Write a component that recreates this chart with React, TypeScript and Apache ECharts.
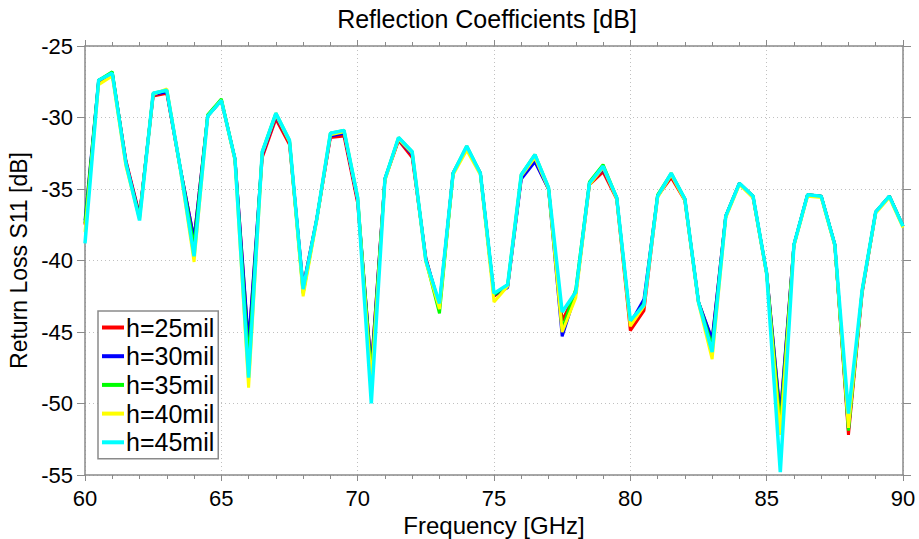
import React, { useEffect, useRef } from "react";
import * as echarts from "echarts";

const freqs = [
  60, 60.5, 61, 61.5, 62, 62.5, 63, 63.5, 64, 64.5, 65, 65.5, 66, 66.5, 67, 67.5,
  68, 68.5, 69, 69.5, 70, 70.5, 71, 71.5, 72, 72.5, 73, 73.5, 74, 74.5, 75, 75.5,
  76, 76.5, 77, 77.5, 78, 78.5, 79, 79.5, 80, 80.5, 81, 81.5, 82, 82.5, 83, 83.5,
  84, 84.5, 85, 85.5, 86, 86.5, 87, 87.5, 88, 88.5, 89, 89.5, 90,
];

const h25 = [
  -37.5, -27.5, -26.9, -33.0, -36.8, -28.5, -28.3, -33.6, -38.5, -29.9, -28.8, -32.9, -46.0, -32.8, -30.1, -31.9,
  -41.8, -37.1, -31.4, -31.3, -36.0, -47.5, -34.3, -31.6, -32.8, -39.8, -43.3, -33.9, -32.1, -33.9, -42.5, -41.8,
  -34.2, -33.0, -35.0, -44.2, -42.3, -34.7, -33.8, -35.7, -44.9, -43.5, -35.5, -34.2, -35.8, -42.9, -45.6, -36.9,
  -34.6, -35.6, -40.9, -51.0, -38.9, -35.4, -35.5, -38.9, -52.2, -42.3, -36.6, -35.5, -37.6,
];

const h30 = [
  -37.2, -27.4, -26.9, -33.1, -36.9, -28.4, -28.2, -33.6, -38.5, -29.9, -28.8, -32.9, -45.8, -32.6, -29.9, -31.7,
  -41.9, -37.1, -31.3, -31.1, -35.8, -47.6, -34.3, -31.5, -32.6, -39.9, -43.1, -33.9, -32.1, -33.9, -42.4, -41.9,
  -34.3, -33.1, -35.0, -45.3, -42.3, -34.6, -33.6, -35.6, -44.4, -42.7, -35.5, -34.0, -35.7, -42.9, -45.5, -36.9,
  -34.6, -35.5, -40.9, -50.8, -38.9, -35.4, -35.5, -38.9, -51.8, -42.2, -36.6, -35.5, -37.6,
];

const h35 = [
  -37.4, -27.4, -26.8, -33.2, -37.0, -28.3, -28.1, -33.6, -39.0, -29.8, -28.7, -32.9, -47.0, -32.4, -29.7, -31.6,
  -42.3, -37.1, -31.1, -30.9, -35.6, -48.0, -34.3, -31.4, -32.4, -40.0, -43.7, -33.9, -32.0, -33.9, -42.4, -41.7,
  -34.0, -32.6, -34.9, -44.8, -42.0, -34.5, -33.3, -35.6, -44.4, -43.0, -35.4, -33.9, -35.7, -42.9, -46.0, -36.9,
  -34.6, -35.5, -40.9, -51.5, -38.9, -35.4, -35.5, -38.9, -51.9, -42.1, -36.6, -35.5, -37.6,
];

const h40 = [
  -38.0, -27.7, -27.1, -33.4, -37.1, -28.4, -28.0, -33.7, -40.1, -29.9, -28.8, -33.0, -48.9, -32.5, -29.8, -31.7,
  -42.5, -37.2, -31.2, -31.0, -35.7, -48.5, -34.4, -31.5, -32.5, -40.1, -43.4, -34.0, -32.3, -34.0, -42.9, -41.8,
  -34.1, -32.8, -35.0, -45.0, -42.6, -34.7, -33.5, -35.7, -44.6, -43.2, -35.6, -34.0, -35.8, -43.0, -46.9, -37.0,
  -34.7, -35.6, -41.0, -52.2, -39.0, -35.5, -35.6, -39.0, -51.7, -42.2, -36.7, -35.6, -37.7,
];

const h45 = [
  -38.8, -27.4, -26.9, -33.2, -37.2, -28.3, -28.1, -33.6, -39.7, -29.9, -28.8, -32.9, -48.2, -32.4, -29.7, -31.6,
  -42.0, -37.1, -31.1, -30.9, -35.6, -50.0, -34.3, -31.4, -32.4, -40.0, -43.0, -33.9, -32.0, -33.9, -42.3, -41.7,
  -34.0, -32.6, -34.9, -43.6, -42.2, -34.6, -33.4, -35.6, -44.2, -43.1, -35.5, -33.9, -35.7, -42.9, -46.4, -36.9,
  -34.6, -35.5, -40.9, -54.8, -38.9, -35.4, -35.5, -38.9, -50.7, -42.1, -36.6, -35.5, -37.6,
];

const seriesNames = ["h=25mil", "h=30mil", "h=35mil", "h=40mil", "h=45mil"];
const seriesColors = ["#ff0000", "#0000ff", "#00ff00", "#ffff00", "#00ffff"];
const seriesValues = [h25, h30, h35, h40, h45];

const FONT = "'Liberation Sans', Arial, sans-serif";
const AXIS_COLOR = "#8a8a8a";

export default function App() {
  const ref = useRef<HTMLDivElement>(null);

  useEffect(() => {
    if (!ref.current) return;
    const chart = echarts.init(ref.current, undefined, { renderer: "svg" });

    const baseX = {
      type: "value" as const,
      min: 60,
      max: 90,
      interval: 5,
      axisLine: { show: true, onZero: false, lineStyle: { color: AXIS_COLOR, width: 1.5 } },
      axisTick: { show: true, inside: false, length: 6, lineStyle: { color: AXIS_COLOR, width: 1 } },
      minorTick: { show: true, splitNumber: 5, length: 4, lineStyle: { color: AXIS_COLOR, width: 1 } },
    };
    const baseY = {
      type: "value" as const,
      min: -55,
      max: -25,
      interval: 5,
      axisLine: { show: true, onZero: false, lineStyle: { color: AXIS_COLOR, width: 1.5 } },
      axisTick: { show: true, inside: false, length: 8, lineStyle: { color: AXIS_COLOR, width: 1 } },
    };

    chart.setOption({
      animation: false,
      backgroundColor: "#ffffff",
      textStyle: { fontFamily: FONT },
      graphic: [
        {
          type: "text",
          x: 487,
          y: 19,
          style: {
            text: "Reflection Coefficients [dB]",
            fontFamily: FONT,
            fontSize: 25,
            fill: "#000",
            textAlign: "center",
            textVerticalAlign: "middle",
          },
        },
      ],
      grid: { left: 85, right: 16, top: 46, bottom: 64, containLabel: false, outerBoundsMode: "none" },
      legend: {
        show: true,
        data: seriesNames,
        orient: "vertical",
        left: 98,
        top: 311,
        itemWidth: 22,
        itemHeight: 4,
        itemGap: 3.7,
        icon: "rect",
        padding: [4, 4, 4, 4],
        backgroundColor: "#ffffff",
        borderColor: "#8a8a8a",
        borderWidth: 1.5,
        borderRadius: 0,
        textStyle: { fontFamily: FONT, fontSize: 25, lineHeight: 25, color: "#000", padding: [0, 0, 0, -3] },
      },
      xAxis: [
        {
          ...baseX,
          position: "bottom",
          name: "Frequency [GHz]",
          nameLocation: "middle",
          nameGap: 33,
          nameTextStyle: { fontFamily: FONT, fontSize: 24, color: "#000" },
          axisLabel: { show: true, fontFamily: FONT, fontSize: 22, color: "#000", margin: 12 },
          splitLine: { show: true, lineStyle: { color: "#c0c0c0", type: [1, 3], width: 1 } },
        },
        {
          ...baseX,
          position: "top",
          axisLabel: { show: false },
          splitLine: { show: false },
        },
      ],
      yAxis: [
        {
          ...baseY,
          position: "left",
          name: "Return Loss S11 [dB]",
          nameLocation: "middle",
          nameGap: 50,
          nameTextStyle: { fontFamily: FONT, fontSize: 23, color: "#000" },
          axisLabel: { show: true, fontFamily: FONT, fontSize: 22, color: "#000", margin: 12 },
          splitLine: { show: true, lineStyle: { color: "#c0c0c0", type: [1, 3], width: 1 } },
        },
        {
          ...baseY,
          position: "right",
          axisLabel: { show: false },
          splitLine: { show: false },
        },
      ],
      series: seriesNames.map((name, i) => ({
        name,
        type: "line",
        xAxisIndex: 0,
        yAxisIndex: 0,
        data: freqs.map((f, j) => [f, seriesValues[i][j]]),
        showSymbol: false,
        symbol: "none",
        color: seriesColors[i],
        lineStyle: { color: seriesColors[i], width: i === 4 ? 3.5 : 3 },
        z: 2 + i,
      })),
    });

    return () => chart.dispose();
  }, []);

  return <div ref={ref} style={{ width: 919, height: 539, position: "absolute", left: 0, top: 0 }} />;
}
